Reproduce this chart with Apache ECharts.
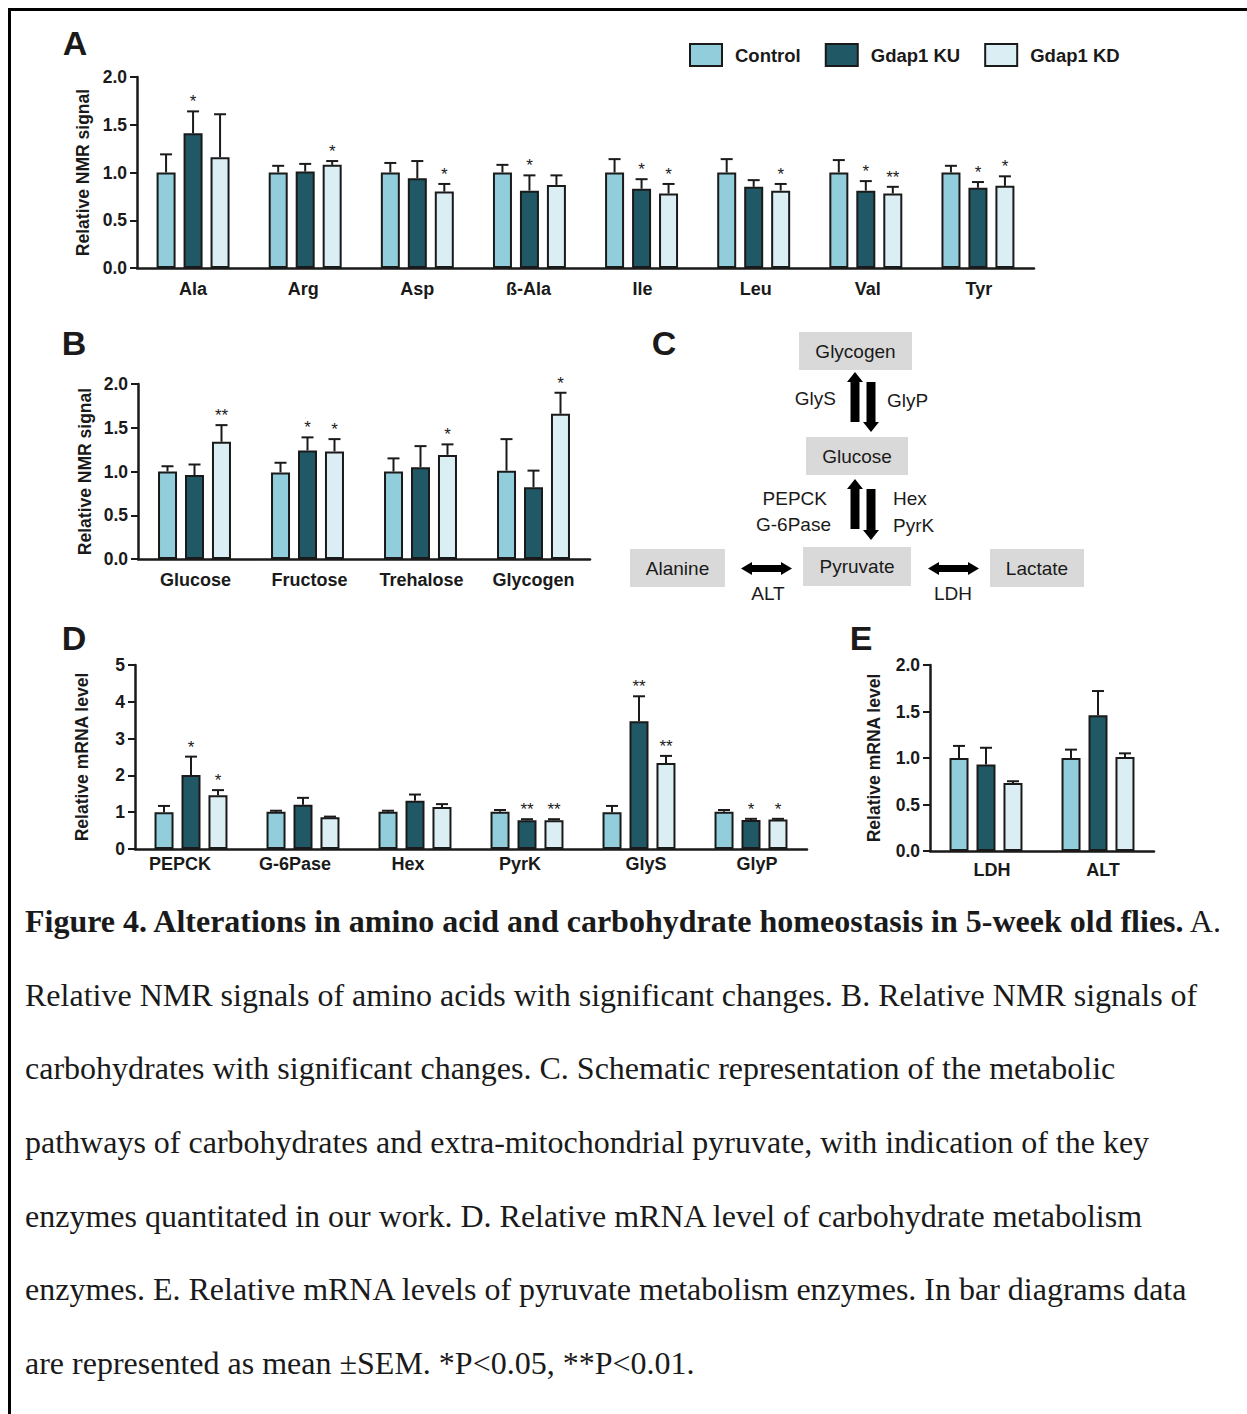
<!DOCTYPE html>
<html>
<head>
<meta charset="utf-8">
<script src="https://cdn.jsdelivr.net/npm/echarts@6/dist/echarts.min.js"></script>
<style>
html,body{margin:0;padding:0;background:#fff;}
#page{position:relative;width:1247px;height:1414px;overflow:hidden;background:#fff;}
#chart{position:absolute;left:0;top:0;width:1247px;height:885px;}
#frame{position:absolute;left:8px;top:8px;width:1300px;height:1500px;border-top:3px solid #000;border-left:3px solid #000;pointer-events:none;}
#caption{position:absolute;left:25px;top:885px;font-family:"Liberation Serif","Times New Roman",serif;font-size:32px;line-height:73.7px;color:#1a1a1a;white-space:nowrap;}
#caption div{height:73.7px;}
</style>
</head>
<body>
<div id="page">
  <div id="chart"></div>
  <div id="frame"></div>
  <div id="caption">
    <div><b>Figure 4. Alterations in amino acid and carbohydrate homeostasis in 5-week old flies.</b> A.</div>
    <div>Relative NMR signals of amino acids with significant changes. B. Relative NMR signals of</div>
    <div>carbohydrates with significant changes. C. Schematic representation of the metabolic</div>
    <div>pathways of carbohydrates and extra-mitochondrial pyruvate, with indication of the key</div>
    <div>enzymes quantitated in our work. D. Relative mRNA level of carbohydrate metabolism</div>
    <div>enzymes. E. Relative mRNA levels of pyruvate metabolism enzymes. In bar diagrams data</div>
    <div>are represented as mean ±SEM. *P&lt;0.05, **P&lt;0.01.</div>
  </div>
</div>
<script>
// ---------- DATA ----------
const groupNames = ['Control', 'Gdap1 KU', 'Gdap1 KD'];

const nmrTicks  = ['0.0', '0.5', '1.0', '1.5', '2.0'];
const mrnaTicksD = ['0', '1', '2', '3', '4', '5'];
const mrnaTicksE = ['0.0', '0.5', '1.0', '1.5', '2.0'];

// Panel A – amino acids (relative NMR signal)
const aCats    = ['Ala', 'Arg', 'Asp', 'ß-Ala', 'Ile', 'Leu', 'Val', 'Tyr'];
const aCtrl    = [1.00, 1.00, 1.00, 1.00, 1.00, 1.00, 1.00, 1.00];
const aCtrlSem = [0.19, 0.07, 0.10, 0.08, 0.14, 0.14, 0.13, 0.07];
const aKU      = [1.41, 1.01, 0.94, 0.81, 0.83, 0.85, 0.81, 0.84];
const aKUSem   = [0.23, 0.08, 0.18, 0.16, 0.10, 0.07, 0.10, 0.06];
const aKD      = [1.16, 1.08, 0.80, 0.87, 0.78, 0.81, 0.78, 0.86];
const aKDSem   = [0.45, 0.04, 0.08, 0.10, 0.10, 0.07, 0.07, 0.10];
const aKUSig   = ['*', '', '', '*', '*', '', '*', '*'];
const aKDSig   = ['', '*', '*', '', '*', '*', '**', '*'];

// Panel B – carbohydrates (relative NMR signal)
const bCats    = ['Glucose', 'Fructose', 'Trehalose', 'Glycogen'];
const bCtrl    = [1.00, 0.99, 1.00, 1.01];
const bCtrlSem = [0.06, 0.11, 0.15, 0.36];
const bKU      = [0.96, 1.24, 1.05, 0.82];
const bKUSem   = [0.12, 0.15, 0.24, 0.19];
const bKD      = [1.34, 1.23, 1.19, 1.66];
const bKDSem   = [0.19, 0.14, 0.12, 0.24];
const bKUSig   = ['', '*', '', ''];
const bKDSig   = ['**', '*', '*', '*'];

// Panel D – carbohydrate metabolism enzymes (relative mRNA level)
const dCats    = ['PEPCK', 'G-6Pase', 'Hex', 'PyrK', 'GlyS', 'GlyP'];
const dCtrl    = [1.00, 1.01, 1.01, 1.01, 1.00, 1.01];
const dCtrlSem = [0.17, 0.03, 0.03, 0.05, 0.17, 0.05];
const dKU      = [2.01, 1.20, 1.31, 0.78, 3.47, 0.79];
const dKUSem   = [0.50, 0.19, 0.17, 0.03, 0.68, 0.03];
const dKD      = [1.46, 0.86, 1.14, 0.78, 2.34, 0.80];
const dKDSem   = [0.14, 0.02, 0.08, 0.03, 0.19, 0.02];
const dKUSig   = ['*', '', '', '**', '**', '*'];
const dKDSig   = ['*', '', '', '**', '**', '*'];

// Panel E – pyruvate metabolism enzymes (relative mRNA level)
const eCats    = ['LDH', 'ALT'];
const eCtrl    = [1.00, 1.00];
const eCtrlSem = [0.13, 0.09];
const eKU      = [0.93, 1.46];
const eKUSem   = [0.18, 0.26];
const eKD      = [0.73, 1.01];
const eKDSem   = [0.02, 0.04];
const eKUSig   = ['', ''];
const eKDSig   = ['', ''];

// ---------- STYLE / LAYOUT ----------
const FONT = '"Liberation Sans", Arial, Helvetica, sans-serif';
const INK = '#1a1a1a';
const COLORS = ['#92cddc', '#215866', '#daeef3'];
const NONE = c => c.map(() => '');

const panels = [
  { cats: aCats, g: [[aCtrl, aCtrlSem, NONE(aCats)], [aKU, aKUSem, aKUSig], [aKD, aKDSem, aKDSig]],
    grid: { left: 137, top: 77, width: 897, height: 191 }, max: 2, step: 0.5, ticks: nmrTicks,
    yName: 'Relative NMR signal', nameGap: 44, labelMargin: 12, shift: [0, -2, 0, -1, 1, 2, 2, 1] },
  { cats: bCats, g: [[bCtrl, bCtrlSem, NONE(bCats)], [bKU, bKUSem, bKUSig], [bKD, bKDSem, bKDSig]],
    grid: { left: 138, top: 384, width: 452, height: 175 }, max: 2, step: 0.5, ticks: nmrTicks,
    yName: 'Relative NMR signal', nameGap: 44, labelMargin: 12, shift: [1, 2, 1, 0] },
  { cats: dCats, g: [[dCtrl, dCtrlSem, NONE(dCats)], [dKU, dKUSem, dKUSig], [dKD, dKDSem, dKDSig]],
    grid: { left: 135, top: 665, width: 672, height: 184 }, max: 5, step: 1, ticks: mrnaTicksD,
    yName: 'Relative mRNA level', nameGap: 44, labelMargin: 6, shift: [-11, -8, -7, -7, 7, 6] },
  { cats: eCats, g: [[eCtrl, eCtrlSem, NONE(eCats)], [eKU, eKUSem, eKUSig], [eKD, eKDSem, eKDSig]],
    grid: { left: 930, top: 665, width: 224, height: 186 }, max: 2, step: 0.5, ticks: mrnaTicksE,
    yName: 'Relative mRNA level', nameGap: 47, labelMargin: 10, shift: [6, 5] }
];

const BAR_W = 19, BAR_OFF = 27;

function makeErr(off, sig) {
  return function (params, api) {
    const i = api.value(0), m = api.value(1), s = api.value(2);
    const p0 = api.coord([i, m]);
    const p1 = api.coord([i, m + s]);
    const x = p0[0] + off, y0 = p0[1], y1 = p1[1];
    const st = { stroke: INK, lineWidth: 2 };
    const children = [
      { type: 'line', shape: { x1: x, y1: y0, x2: x, y2: y1 }, style: st },
      { type: 'line', shape: { x1: x - 6, y1: y1, x2: x + 6, y2: y1 }, style: st }
    ];
    const t = sig[params.dataIndex];
    if (t) {
      children.push({ type: 'text', x: x, y: y1 - 1,
        style: { text: t, font: '17px ' + FONT, fill: INK, align: 'center', verticalAlign: 'bottom' } });
    }
    return { type: 'group', children };
  };
}

const grids = [], xAxes = [], yAxes = [], series = [];
panels.forEach((p, gi) => {
  grids.push(Object.assign({ containLabel: false }, p.grid));
  const rich = {};
  p.shift.forEach((s, i) => {
    rich['o' + i] = { fontFamily: FONT, fontSize: 18, fontWeight: 'bold', color: INK,
      padding: s >= 0 ? [0, 0, 0, 2 * s] : [0, -2 * s, 0, 0] };
  });
  xAxes.push({
    gridIndex: gi, type: 'category', data: p.cats,
    axisLine: { show: true, lineStyle: { color: INK, width: 2.5 } },
    axisTick: { show: false },
    axisLabel: { fontFamily: FONT, fontSize: 18, fontWeight: 'bold', color: INK, margin: p.labelMargin, interval: 0,
      formatter: (v, i) => '{o' + i + '|' + v + '}', rich },
    splitLine: { show: false }
  });
  yAxes.push({
    gridIndex: gi, type: 'value', min: 0, max: p.max, interval: p.step,
    axisLine: { show: true, lineStyle: { color: INK, width: 2.5 } },
    axisTick: { show: true, length: 7, lineStyle: { color: INK, width: 2 } },
    splitLine: { show: false },
    axisLabel: { fontFamily: FONT, fontSize: 17.5, fontWeight: 'bold', color: INK, margin: 10,
      formatter: v => { const k = Math.round(v / p.step); return p.ticks[k] !== undefined ? p.ticks[k] : ''; } },
    name: p.yName, nameLocation: 'middle', nameGap: p.nameGap,
    nameTextStyle: { fontFamily: FONT, fontSize: 17.5, fontWeight: 'bold', color: INK }
  });
  p.g.forEach((g, si) => {
    series.push({
      type: 'bar', name: groupNames[si], xAxisIndex: gi, yAxisIndex: gi, data: g[0],
      barWidth: BAR_W, barGap: '42%',
      itemStyle: { color: COLORS[si], borderColor: INK, borderWidth: 2 },
      silent: true, animation: false
    });
  });
  p.g.forEach((g, si) => {
    series.push({
      type: 'custom', xAxisIndex: gi, yAxisIndex: gi,
      data: g[0].map((m, i) => [i, m, g[1][i]]),
      encode: { x: 0, y: 1 },
      renderItem: makeErr((si - 1) * BAR_OFF, g[2]),
      z: 5, silent: true, animation: false
    });
  });
});

// ---------- PANEL LETTERS + SCHEMATIC (panel C) ----------
const graphics = [];
function txt(x, y, s, size, bold, align) {
  graphics.push({ type: 'text', x, y, silent: true,
    style: { text: s, font: (bold ? 'bold ' : '') + size + 'px ' + FONT, fill: INK,
      align: align || 'center', verticalAlign: 'middle' } });
}
[['A', 75, 43], ['B', 74, 343], ['C', 664, 343], ['D', 74, 638], ['E', 861, 638]]
  .forEach(l => txt(l[1], l[2], l[0], 34, true));

function box(x1, y1, x2, y2, label) {
  graphics.push({ type: 'rect', silent: true, shape: { x: x1, y: y1, width: x2 - x1, height: y2 - y1 },
    style: { fill: '#d9d9d9' } });
  txt((x1 + x2) / 2, (y1 + y2) / 2, label, 19, false);
}
box(799, 332, 912, 370, 'Glycogen');
box(806, 437, 908, 475, 'Glucose');
box(803, 547, 911, 586, 'Pyruvate');
box(630, 549, 725, 587, 'Alanine');
box(990, 549, 1084, 587, 'Lactate');

function vArrow(cx, tail, tip) {
  const d = tip < tail ? 1 : -1; // 1 = pointing up
  const h = 10, hw = 8, sw = 4.5;
  const hb = tip + d * h;
  graphics.push({ type: 'polygon', silent: true, style: { fill: '#000' },
    shape: { points: [[cx, tip], [cx + hw, hb], [cx + sw, hb], [cx + sw, tail], [cx - sw, tail], [cx - sw, hb], [cx - hw, hb]] } });
}
vArrow(855, 422, 372);
vArrow(871, 382, 432);
vArrow(855, 529, 479);
vArrow(871, 489, 540);

function hDouble(x1, x2, cy) {
  const h = 11, hw = 6.5, sw = 3.5;
  graphics.push({ type: 'polygon', silent: true, style: { fill: '#000' },
    shape: { points: [[x1, cy], [x1 + h, cy - hw], [x1 + h, cy - sw], [x2 - h, cy - sw], [x2 - h, cy - hw], [x2, cy],
      [x2 - h, cy + hw], [x2 - h, cy + sw], [x1 + h, cy + sw], [x1 + h, cy + hw]] } });
}
hDouble(741, 792, 568.5);
hDouble(928, 979, 568.5);

txt(836, 398, 'GlyS', 19, false, 'right');
txt(887, 400, 'GlyP', 19, false, 'left');
txt(827, 498, 'PEPCK', 19, false, 'right');
txt(831, 524, 'G-6Pase', 19, false, 'right');
txt(893, 498, 'Hex', 19, false, 'left');
txt(893, 525, 'PyrK', 19, false, 'left');
txt(768, 593, 'ALT', 19, false);
txt(953, 593, 'LDH', 19, false);

const chart = echarts.init(document.getElementById('chart'), null, { renderer: 'svg' });
chart.setOption({
  backgroundColor: 'transparent',
  animation: false,
  textStyle: { fontFamily: FONT },
  legend: {
    left: 689, top: 43, itemWidth: 32, itemHeight: 22, itemGap: 24, selectedMode: false, icon: 'rect',
    data: groupNames, padding: 0,
    itemStyle: { borderWidth: 2, borderColor: INK },
    textStyle: { fontFamily: FONT, fontSize: 18.5, fontWeight: 'bold', color: INK, padding: [0, 0, 0, 8] }
  },
  grid: grids, xAxis: xAxes, yAxis: yAxes, series: series,
  graphic: graphics
});
</script>
</body>
</html>
